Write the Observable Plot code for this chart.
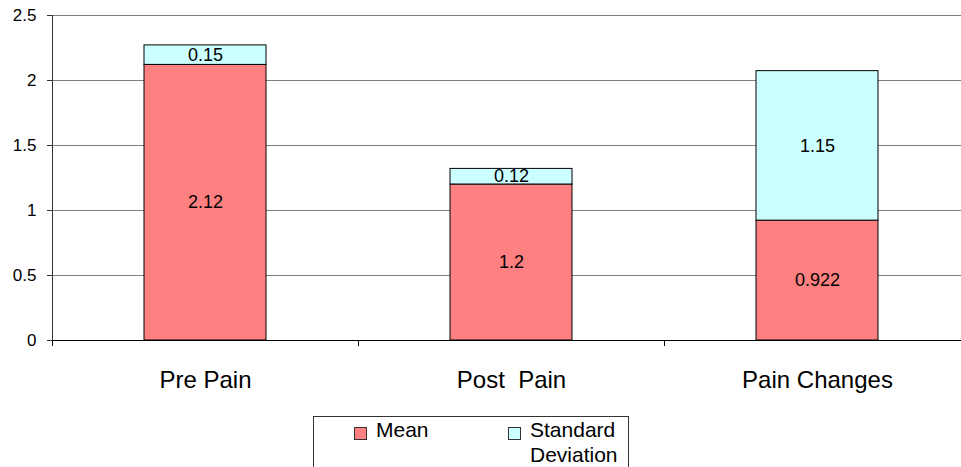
<!DOCTYPE html>
<html>
<head>
<meta charset="utf-8">
<script src="https://cdn.jsdelivr.net/npm/d3@7"></script>
<script src="https://cdn.jsdelivr.net/npm/@observablehq/plot@0.6"></script>
<style>
  html, body { margin: 0; padding: 0; background: #fff; overflow: hidden; }
  body { width: 961px; height: 467px; position: relative; font-family: "Liberation Sans", Arial, sans-serif; }
  svg text { white-space: pre; }
  #legend {
    position: absolute; left: 313px; top: 416px; width: 316px; height: 70px;
    border: 1px solid #333; box-sizing: border-box; font-size: 21px; color: #000;
  }
  .item { position: absolute; top: 0px; display: flex; align-items: flex-start; line-height: 25px; }
  .sw { width: 13px; height: 13px; border: 1px solid #333; margin-top: 10px; margin-right: 9px; box-sizing: border-box; }
</style>
</head>
<body>
<div id="chart"></div>
<div id="legend">
  <div class="item" style="left:40px"><div class="sw" style="background:#FF8080"></div><div>Mean</div></div>
  <div class="item" style="left:194px"><div class="sw" style="background:#CCFFFF"></div><div>Standard<br>Deviation</div></div>
</div>
<script>
// Pain scores: mean with standard deviation stacked on top
const categories = ["Pre Pain", "Post  Pain", "Pain Changes"];
const meanValues = [2.12, 1.2, 0.922];
const sdValues = [0.15, 0.12, 1.15];
const seriesNames = ["Mean", "Standard Deviation"];
const seriesColors = ["#FF8080", "#CCFFFF"];
const yTicks = [0, 0.5, 1, 1.5, 2, 2.5];

const rows = [];
categories.forEach((c, i) => {
  rows.push({category: c, series: seriesNames[0], value: meanValues[i]});
  rows.push({category: c, series: seriesNames[1], value: sdValues[i]});
});

const width = 961, marginLeft = 52, marginRight = -9;
const step = (width - marginLeft - marginRight) / categories.length;

const chart = Plot.plot({
  width,
  height: 412,
  marginLeft,
  marginRight,
  marginTop: 15,
  marginBottom: 72,
  style: {fontFamily: "Liberation Sans, Arial, sans-serif", color: "#000", background: "#fff"},
  x: {domain: categories, paddingInner: 0.6, paddingOuter: 0.3, label: null},
  y: {domain: [0, 2.5], label: null},
  color: {domain: seriesNames, range: seriesColors},
  marks: [
    Plot.ruleY(yTicks.filter(t => t > 0), {stroke: "#7f7f7f", strokeWidth: 1}),
    Plot.barY(rows, Plot.stackY({x: "category", y: "value", fill: "series", stroke: "#000", strokeWidth: 1})),
    Plot.text(rows, Plot.stackY({x: "category", y: "value", text: d => String(d.value), fontSize: 18, fill: "#000"})),
    Plot.ruleY([0], {stroke: "#000", strokeWidth: 1}),
    // category boundary ticks below the baseline
    Plot.ruleX(categories, {x: d => d, dx: -step / 2, y1: 0, y2: 0, insetBottom: -6, stroke: "#000"}),
    Plot.ruleX(categories.slice(-1), {x: d => d, dx: step / 2, y1: 0, y2: 0, insetBottom: -6, stroke: "#000"}),
    Plot.frame({anchor: "left", stroke: "#333"}),
    Plot.axisY({ticks: yTicks, tickFormat: d => String(d), tickSize: 5, tickPadding: 11, fontSize: 17, stroke: "#333"}),
    Plot.axisX({tickSize: 0, tickPadding: 30, fontSize: 24})
  ]
});
document.getElementById("chart").appendChild(chart);
</script>
</body>
</html>
